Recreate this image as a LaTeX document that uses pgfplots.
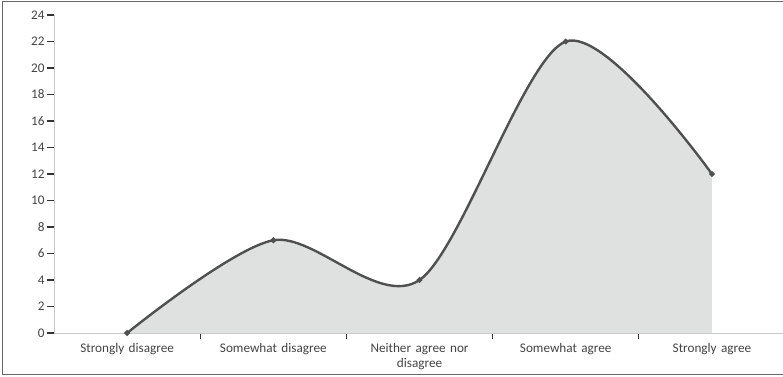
\documentclass[border=0pt]{standalone}
\usepackage{pgfplots}
\pgfplotsset{compat=1.18}
\usepackage{fontspec}
\setmainfont{Carlito}
\definecolor{txt}{HTML}{444444}
\definecolor{fillg}{HTML}{DFE0E0}
\definecolor{linec}{HTML}{505050}
\definecolor{axc}{HTML}{C8C8C8}
\begin{document}
\begin{tikzpicture}[x=1pt,y=1pt]
\useasboundingbox (0,0) rectangle (783,376);
\draw[color=gray!80!black, line width=1.5pt] (783,374.5) -- (2.5,374.5) -- (2.5,1.5) -- (783,1.5);
\begin{axis}[
  at={(54pt,43pt)}, anchor=south west,
  scale only axis, width=729pt, height=318pt,
  xmin=-0.5, xmax=4.486, ymin=0, ymax=24,
  axis x line=bottom, axis y line=left,
  axis line style={-, draw=axc, line width=0.8pt},
  xtick={0,1,2,3,4},
  xticklabels={Strongly disagree,Somewhat disagree,{Neither agree nor\\disagree},Somewhat agree,Strongly agree},
  xticklabel style={align=center, text width=120pt, font=\fontsize{13.2}{14.5}\selectfont, text=txt},
  xtick style={draw=none},
  minor xtick={0.5,1.5,2.5,3.5},
  minor tick length=6pt,
  minor x tick style={draw=black!80, line width=1.2pt},
  ytick={0,2,...,24},
  major tick length=7pt,
  tick align=outside,
  ytick style={draw=black!80, line width=1.2pt},
  yticklabel style={font=\fontsize{13.2}{14.5}\selectfont, text=txt, xshift=1pt},
  tick label style={/pgf/number format/assume math mode=true},
  clip=false,
]
\addplot[draw=none, fill=fillg, smooth, tension=0.5] coordinates {(0,0) (1,7) (2,4) (3,22) (4,12)} \closedcycle;
\addplot[color=linec, line width=2.4pt, smooth, tension=0.5, mark=*, mark size=1.5pt, mark options={fill=linec, draw=linec}] coordinates {(0,0) (1,7) (2,4) (3,22) (4,12)};
\end{axis}
\end{tikzpicture}
\end{document}
